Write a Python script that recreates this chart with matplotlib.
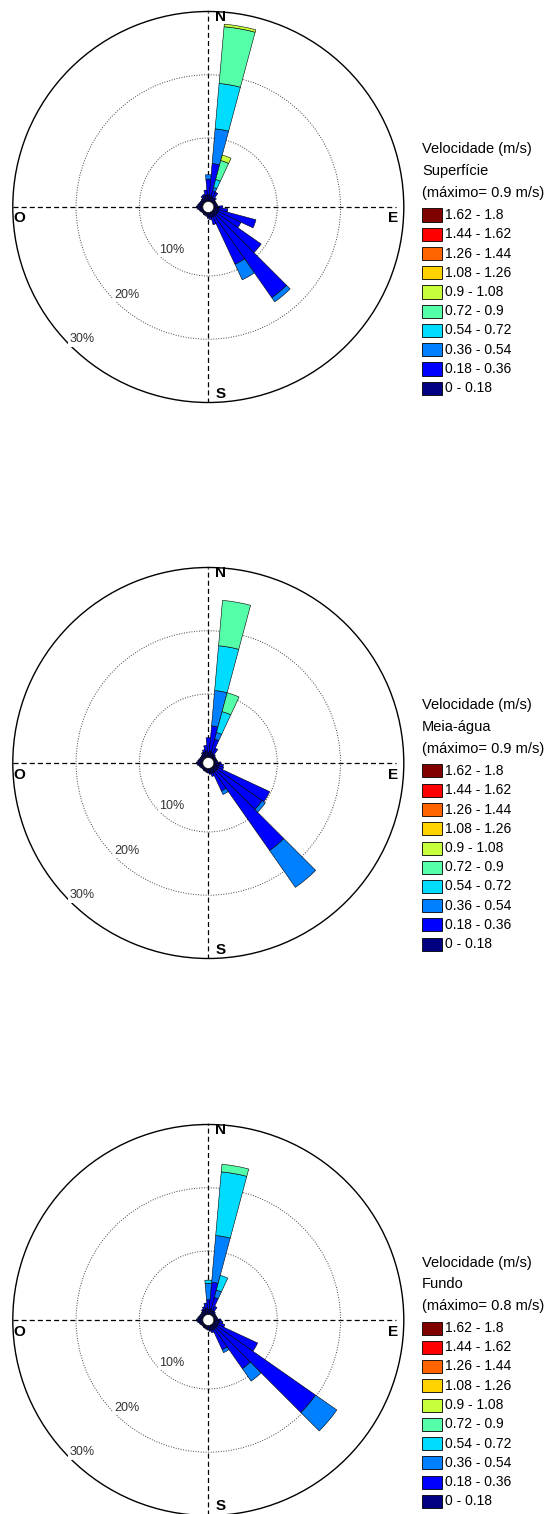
import numpy as np
import matplotlib
matplotlib.use('Agg')
import matplotlib.pyplot as plt
from matplotlib.patches import Rectangle, Circle

plt.rcParams['font.family'] = ['Liberation Sans', 'DejaVu Sans']

W, H = 547, 1514
CX, R = 208.3, 195.5          # centro e raio das rosas (px)
R_ORIGEM = 0.9                # buraco central (%)

direcoes = np.arange(0, 360, 10)

classes = ['0 - 0.18', '0.18 - 0.36', '0.36 - 0.54', '0.54 - 0.72', '0.72 - 0.9',
           '0.9 - 1.08', '1.08 - 1.26', '1.26 - 1.44', '1.44 - 1.62', '1.62 - 1.8']
cores = ['#000080', '#0000ff', '#0080ff', '#00dcff', '#55ffaa',
         '#c8ff3c', '#ffd200', '#ff6400', '#ff0000', '#800000']

# frequencia (%) por direcao (0, 10, ..., 350 graus), uma lista por classe
# Superficie
sup_c1 = [1.0, 1.0, 0.8, 0.7, 0.6, 0.5, 0.5, 0.5, 0.6, 0.8,
          0.8, 0.8, 0.8, 0.8, 0.8, 0.8, 0.8, 0.7, 0.7, 0.6,
          0.5, 0.5, 0.4, 0.4, 0.5, 0.6, 0.8, 1.0, 0.8, 0.7,
          0.6, 0.6, 0.7, 0.8, 0.9, 1.0]
sup_c2 = [2.5, 5.0, 1.0, 1.0, 0.3, 0, 0, 0, 0, 0.6,
          1.4, 6.1, 4.0, 8.5, 15.8, 8.3, 1.2, 0.4, 0.2, 0,
          0, 0, 0, 0, 0, 0, 0, 0, 0, 0,
          0, 0, 0, 0.3, 0.3, 0.8]
sup_c3 = [0.7, 5.5, 0.5, 0, 0, 0, 0, 0, 0, 0,
          0, 0, 0, 0, 0.8, 2.7, 0, 0, 0, 0,
          0, 0, 0, 0, 0, 0, 0, 0, 0, 0,
          0, 0, 0, 0, 0, 0]
sup_c4 = [0, 7.2, 1.3, 0, 0, 0, 0, 0, 0, 0,
          0, 0, 0, 0, 0, 0, 0, 0, 0, 0,
          0, 0, 0, 0, 0, 0, 0, 0, 0, 0,
          0, 0, 0, 0, 0, 0]
sup_c5 = [0, 9.0, 3.1, 0, 0, 0, 0, 0, 0, 0,
          0, 0, 0, 0, 0, 0, 0, 0, 0, 0,
          0, 0, 0, 0, 0, 0, 0, 0, 0, 0,
          0, 0, 0, 0, 0, 0]
sup_c6 = [0, 0.4, 0.9, 0, 0, 0, 0, 0, 0, 0,
          0, 0, 0, 0, 0, 0, 0, 0, 0, 0,
          0, 0, 0, 0, 0, 0, 0, 0, 0, 0,
          0, 0, 0, 0, 0, 0]

# Meia-agua
mei_c1 = [0.8, 1.0, 0.8, 0.7, 0.5, 0.5, 0.5, 0.5, 0.6, 0.8,
          0.8, 0.8, 0.8, 0.8, 0.8, 0.8, 0.8, 0.7, 0.7, 0.6,
          0.5, 0.5, 0.4, 0.4, 0.5, 0.6, 0.8, 1.0, 0.8, 0.7,
          0.6, 0.6, 0.7, 0.8, 0.9, 1.0]
mei_c2 = [2.3, 4.0, 2.2, 1.0, 0.2, 0, 0, 0, 0, 0.3,
          0.7, 0.8, 9.0, 8.7, 15.2, 3.2, 0.5, 0.2, 0, 0,
          0, 0, 0, 0, 0, 0, 0, 0, 0, 0,
          0, 0, 0, 0.2, 0.4, 0.9]
mei_c3 = [0, 5.6, 1.1, 0, 0, 0, 0, 0, 0, 0,
          0, 0, 0, 0.6, 7.1, 0.6, 0, 0, 0, 0,
          0, 0, 0, 0, 0, 0, 0, 0, 0, 0,
          0, 0, 0, 0, 0, 0]
mei_c4 = [0, 7.1, 3.4, 0, 0, 0, 0, 0, 0, 0,
          0, 0, 0, 0, 0, 0, 0, 0, 0, 0,
          0, 0, 0, 0, 0, 0, 0, 0, 0, 0,
          0, 0, 0, 0, 0, 0]
mei_c5 = [0, 7.2, 3.1, 0, 0, 0, 0, 0, 0, 0,
          0, 0, 0, 0, 0, 0, 0, 0, 0, 0,
          0, 0, 0, 0, 0, 0, 0, 0, 0, 0,
          0, 0, 0, 0, 0, 0]

# Fundo
fun_c1 = [0.8, 1.0, 0.8, 0.7, 0.5, 0.5, 0.5, 0.5, 0.6, 0.8,
          0.8, 0.8, 0.8, 0.8, 0.8, 0.8, 0.8, 0.7, 0.7, 0.6,
          0.5, 0.5, 0.4, 0.4, 0.5, 0.6, 0.8, 1.0, 0.8, 0.7,
          0.6, 0.6, 0.7, 0.8, 0.9, 1.0]
fun_c2 = [1.5, 4.1, 2.0, 0.8, 0.2, 0, 0, 0, 0, 0.3,
          0.6, 1.0, 6.9, 19.0, 7.7, 3.5, 0.4, 0.2, 0, 0,
          0, 0, 0, 0, 0, 0, 0, 0, 0, 0,
          0, 0, 0, 0.2, 0.4, 0.8]
fun_c3 = [2.6, 7.4, 1.2, 0, 0, 0, 0, 0, 0, 0,
          0, 0, 0, 4.1, 2.4, 0.5, 0, 0, 0, 0,
          0, 0, 0, 0, 0, 0, 0, 0, 0, 0,
          0, 0, 0, 0, 0, 0]
fun_c4 = [0.5, 10.1, 2.4, 0, 0, 0, 0, 0, 0, 0,
          0, 0, 0, 0, 0, 0, 0, 0, 0, 0,
          0, 0, 0, 0, 0, 0, 0, 0, 0, 0,
          0, 0, 0, 0, 0, 0]
fun_c5 = [0, 1.2, 0, 0, 0, 0, 0, 0, 0, 0,
          0, 0, 0, 0, 0, 0, 0, 0, 0, 0,
          0, 0, 0, 0, 0, 0, 0, 0, 0, 0,
          0, 0, 0, 0, 0, 0]

fig = plt.figure(figsize=(W / 100, H / 100), dpi=100)
fig.patch.set_facecolor('white')


def px(x, y):
    return x / W, 1 - y / H


def desenha_rosa(cy, nome, maximo, freqs):
    ax = fig.add_axes([(CX - R) / W, 1 - (cy + R) / H, 2 * R / W, 2 * R / H],
                      projection='polar')
    ax.set_theta_zero_location('N')
    ax.set_theta_direction(-1)
    ax.set_rlim(0, 30)
    ax.set_rorigin(-R_ORIGEM)
    ax.set_xticks([])
    ax.set_yticks([10, 20])
    ax.set_yticklabels([])
    ax.yaxis.grid(True, color='#444444', linestyle=(0, (1, 1.6)), linewidth=0.7)
    ax.xaxis.grid(False)
    ax.spines['polar'].set_linewidth(1.0)
    ax.spines['polar'].set_color('black')

    # eixos tracejados
    ax.plot([0.5, 0.5], [0, 1], transform=ax.transAxes, color='black',
            lw=0.9, dashes=(4, 2.5), zorder=1.5)
    ax.plot([0, 0.98], [0.5, 0.5], transform=ax.transAxes, color='black',
            lw=0.9, dashes=(4, 2.5), zorder=1.5)

    theta = np.deg2rad(direcoes)
    base = np.zeros(len(direcoes))
    for i, f in enumerate(freqs):
        f = np.array(f, dtype=float)
        m = f > 0
        ax.bar(theta[m], f[m], width=np.deg2rad(10), bottom=base[m],
               color=cores[i], edgecolor='black', linewidth=0.4, zorder=3)
        base = base + f

    ax.add_patch(Circle((0.5, 0.5), R_ORIGEM / (30 + R_ORIGEM) * 0.5,
                        transform=ax.transAxes, facecolor='white',
                        edgecolor='black', lw=0.5, zorder=4))

    for v in [10, 20, 30]:
        ax.text(np.deg2rad(225), v, '%d%%' % v, ha='left', va='bottom',
                fontsize=9, color='#333333', zorder=5,
                bbox=dict(facecolor='white', edgecolor='none', pad=1.2))

    # pontos cardeais
    for lab, dx, dy in [('N', 12.5, -190), ('E', 184.5, 11.5),
                        ('O', -189, 11.5), ('S', 12, 186.5)]:
        fig.text(*px(CX + dx, cy + dy), lab, ha='center', va='center',
                 fontsize=11, fontweight='bold')

    # legenda
    for j, linha in enumerate(['Velocidade (m/s)', nome, '(máximo= %s m/s)' % maximo]):
        fig.text(*px(422, cy - 57.5 + 21.7 * j), linha, ha='left', va='center',
                 fontsize=10.5)
    for k in range(10):
        idx = 9 - k
        yc = cy + 8 + 19.25 * k
        x0, y0 = px(422, yc + 6.5)
        fig.add_artist(Rectangle((x0, y0), 20 / W, 13 / H, transform=fig.transFigure,
                                 facecolor=cores[idx], edgecolor='black', lw=0.6))
        fig.text(*px(445, yc), classes[idx], ha='left', va='center', fontsize=10)


desenha_rosa(207, 'Superfície', '0.9', [sup_c1, sup_c2, sup_c3, sup_c4, sup_c5, sup_c6])
desenha_rosa(763, 'Meia-água', '0.9', [mei_c1, mei_c2, mei_c3, mei_c4, mei_c5])
desenha_rosa(1320, 'Fundo', '0.8', [fun_c1, fun_c2, fun_c3, fun_c4, fun_c5])

fig.savefig('out.png', dpi=100, facecolor='white')
